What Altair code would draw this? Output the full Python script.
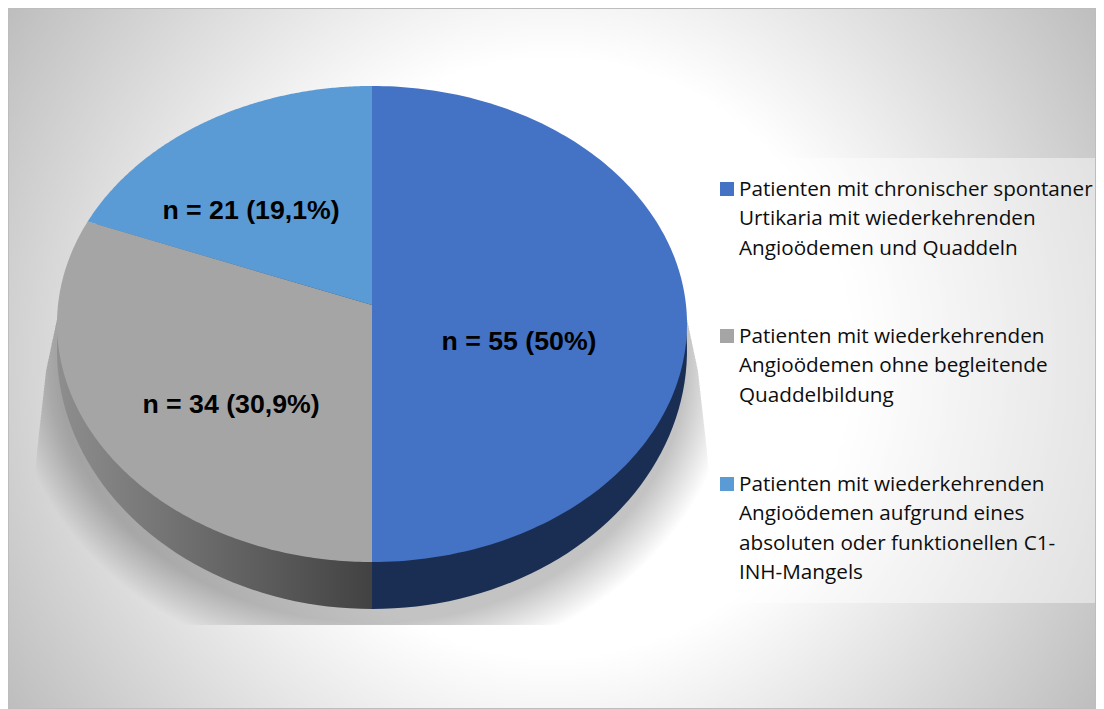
import numpy as np
import altair as alt

# ---- chart values -------------------------------------------------------
counts = [55, 34, 21]
share_labels = ["n = 55 (50%)", "n = 34 (30,9%)", "n = 21 (19,1%)"]
colors = ["#4472c4", "#a5a5a5", "#5b9bd5"]
legend_lines = [
    ["Patienten mit chronischer spontaner", "Urtikaria mit wiederkehrenden", "Angioödemen und Quaddeln"],
    ["Patienten mit wiederkehrenden", "Angioödemen ohne begleitende", "Quaddelbildung"],
    ["Patienten mit wiederkehrenden", "Angioödemen aufgrund eines", "absoluten oder funktionellen C1-", "INH-Mangels"],
]

# ---- layout (picture coordinates) ---------------------------------------
W, H = 1096, 709
X0, Y0 = 8, 8
CX, APEX_Y = 372, 305
A, B, K = 314.0, 236.5, 0.0798         # perspective disc
LOW_CY, LOW_RX, LOW_RY = 350, 315, 259  # lower rim of the disc
LABEL_POS = [(519, 342), (231, 405), (251, 211)]
LEG_TOPS = [190, 337, 485]
LEG_STEP = 29.3

xs = alt.Scale(domain=[X0, W], nice=False, zero=False)
ys = alt.Scale(domain=[H, Y0], nice=False, zero=False)
proj = alt.Projection(type="identity", scale=1, translate=[-X0, -Y0])


def rim(theta):
    d = 1 + K * np.cos(theta)
    return CX + A * np.sin(theta) / d, APEX_Y - B * np.cos(theta) / d


def feature(px, py, **props):
    ring = [[float(a), float(b)] for a, b in zip(px, py)]
    ring.append(ring[0])
    return {"type": "Feature", "properties": props,
            "geometry": {"type": "Polygon", "coordinates": [ring]}}


def half_rim(sign):
    phi = np.linspace(0, np.pi, 90)
    return CX + sign * LOW_RX * np.sin(phi), LOW_CY - LOW_RY * np.cos(phi)


# background (a square, so that the radial gradient is a true circle)
bg = alt.Chart(alt.Data(values=[{"a": 553 - 650, "b": 553 + 650, "c": 358 - 650, "d": 358 + 650}])).mark_rect(
    clip=True,
    fill=alt.RadialGradient(gradient="radial", x1=0.5, y1=0.5, r1=0, x2=0.5, y2=0.5, r2=0.5,
                            stops=[alt.GradientStop(offset=0, color="#ffffff"),
                                   alt.GradientStop(offset=0.46, color="#ffffff"),
                                   alt.GradientStop(offset=1, color="#bdbdbd")]),
).encode(x=alt.X("a:Q", scale=xs, axis=None), x2="b:Q", y=alt.Y("c:Q", scale=ys, axis=None), y2="d:Q")


# soft shadow under the disc, cut by a slanted outline and a flat bottom
def outer(y):
    return np.interp(y, [272, 370, 450, 700], [677, 698, 707, 730])


SH_CY = LOW_CY + 15
shadow_feats = []
for d in np.linspace(0, 45, 20):
    col_y = np.linspace(272, SH_CY, 30)
    phi = np.linspace(np.pi / 2, -np.pi / 2, 160)
    ey = SH_CY + (LOW_RY + d) * np.cos(phi)
    ex = (LOW_RX + d) * np.sin(phi)
    half_w = outer(ey) - CX
    ex = np.clip(ex, -half_w, half_w)
    col_r = np.minimum(LOW_RX + d, outer(col_y) - CX)
    sx = np.r_[CX + col_r, CX + ex, CX - col_r[::-1]]
    sy = np.r_[col_y, np.minimum(ey, 625), col_y[::-1]]
    shadow_feats.append(feature(sx, sy))
shadow = alt.Chart(alt.Data(values=shadow_feats)).mark_geoshape(
    fill="#000000", fillOpacity=0.0115, stroke=None, clip=True).project(**proj.to_dict())

# side wall
lx, ly = half_rim(-1)
rx, ry = half_rim(1)
wall_left = alt.Chart(alt.Data(values=[feature(lx, ly)])).mark_geoshape(
    stroke=None,
    fill=alt.LinearGradient(gradient="linear", x1=0, x2=1, y1=0, y2=0,
                            stops=[alt.GradientStop(offset=0, color="#8e8e8e"),
                                   alt.GradientStop(offset=1, color="#424242")]),
).project(**proj.to_dict())
wall_right = alt.Chart(alt.Data(values=[feature(rx, ry)])).mark_geoshape(
    stroke=None, fill="#1a2d52").project(**proj.to_dict())

# top of the disc, from the values
total = sum(counts)
edges = np.cumsum([0] + counts) / total * 2 * np.pi
slices = []
for i in range(len(counts)):
    t = np.linspace(edges[i], edges[i + 1], 160)
    px, py = rim(t)
    slices.append(feature(np.r_[CX, px], np.r_[APEX_Y, py], slice=i))
top = alt.Chart(alt.Data(values=slices)).mark_geoshape(stroke=None).encode(
    color=alt.Color("properties.slice:N", legend=None,
                    scale=alt.Scale(domain=[0, 1, 2], range=colors))
).project(**proj.to_dict())

# value labels
label_rows = [{"t": s, "x": p[0], "y": p[1]} for s, p in zip(share_labels, LABEL_POS)]
labels = alt.Chart(alt.Data(values=label_rows)).mark_text(
    font="Liberation Sans", fontWeight="bold", fontSize=26.7, color="#000000",
    align="center", baseline="middle"
).encode(x=alt.X("x:Q", scale=xs, axis=None), y=alt.Y("y:Q", scale=ys, axis=None), text="t:N")

# legend panel
panel = alt.Chart(alt.Data(values=[{"a": 711, "b": W, "c": 158, "d": 603}])).mark_rect(
    fill="#ffffff", fillOpacity=0.45
).encode(x=alt.X("a:Q", scale=xs, axis=None), x2="b:Q", y=alt.Y("c:Q", scale=ys, axis=None), y2="d:Q")

swatch_rows = [{"a": 720, "b": 734, "c": t - 8, "d": t + 6, "k": i} for i, t in enumerate(LEG_TOPS)]
swatches = alt.Chart(alt.Data(values=swatch_rows)).mark_rect().encode(
    x=alt.X("a:Q", scale=xs, axis=None), x2="b:Q",
    y=alt.Y("c:Q", scale=ys, axis=None), y2="d:Q",
    color=alt.Color("k:N", legend=None, scale=alt.Scale(domain=[0, 1, 2], range=colors)),
)

text_rows = []
for lines, t0 in zip(legend_lines, LEG_TOPS):
    for j, line in enumerate(lines):
        text_rows.append({"t": line, "x": 739, "y": t0 + j * LEG_STEP})
legend_text = alt.Chart(alt.Data(values=text_rows)).mark_text(
    font="Open Sans", fontSize=20.7, color="#0d0d0d", align="left", baseline="middle"
).encode(x=alt.X("x:Q", scale=xs, axis=None), y=alt.Y("y:Q", scale=ys, axis=None), text="t:N")

# frame
frame = alt.Chart(alt.Data(values=[{"a": X0, "b": W, "c": Y0, "d": H}])).mark_rect(
    fillOpacity=0, fill="#ffffff", stroke="#bdbdbd", strokeWidth=2
).encode(x=alt.X("a:Q", scale=xs, axis=None), x2="b:Q", y=alt.Y("c:Q", scale=ys, axis=None), y2="d:Q")

chart = alt.layer(
    bg, shadow, wall_left, wall_right, top, labels, panel, swatches, legend_text, frame
).resolve_scale(color="independent").properties(
    width=W - X0, height=H - Y0, padding=0, autosize=alt.AutoSizeParams(type="none"), background="#ffffff"
).configure_view(stroke=None)

chart.save("out.html", embed_options={"renderer": "svg", "actions": False})
